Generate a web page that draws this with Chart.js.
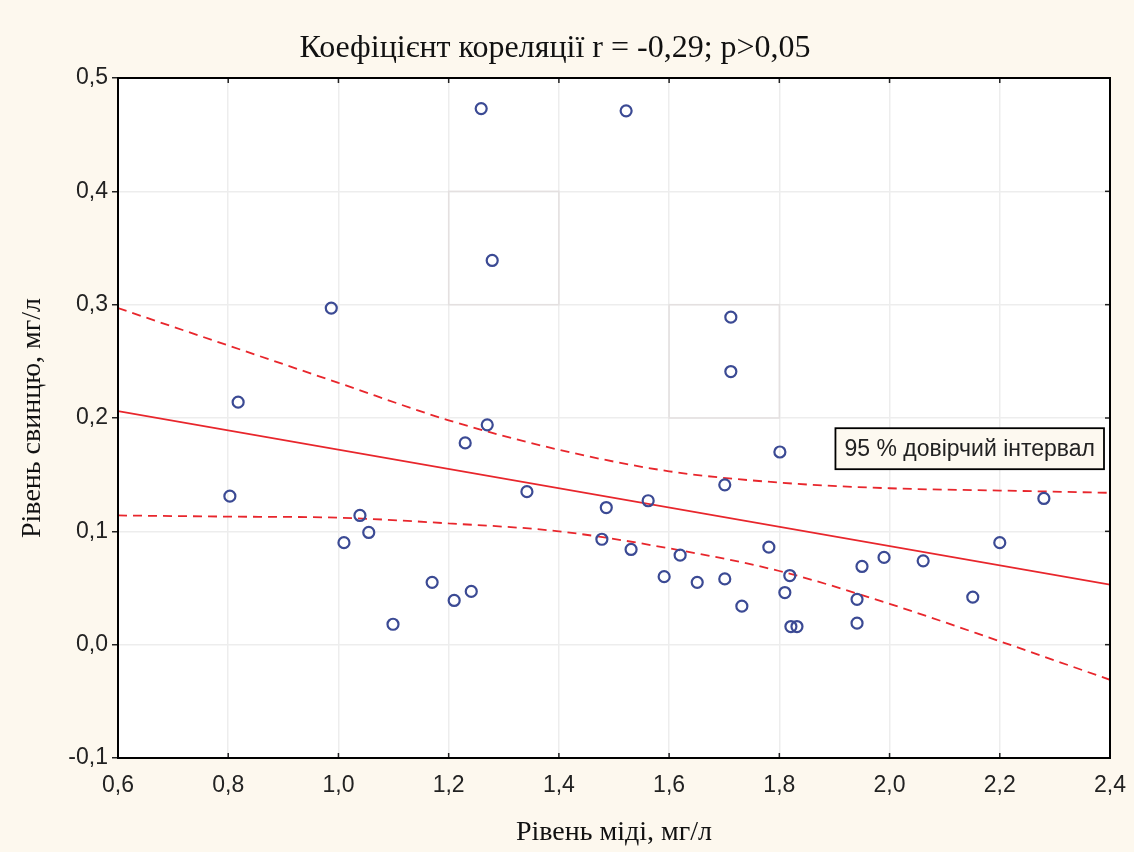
<!DOCTYPE html>
<html>
<head>
<meta charset="utf-8">
<script src="https://cdn.jsdelivr.net/npm/chart.js@4"></script>
<style>
  html, body { margin: 0; padding: 0; background: #fdf8ee; }
  #wrap { width: 1134px; height: 852px; }
</style>
</head>
<body>
<div id="wrap"><canvas id="chart" width="1134" height="852"></canvas></div>
<script>
// ── DATA ─────────────────────────────────────────
const copperX = [
  0.803, 0.818, 0.987, 1.010, 1.039, 1.055, 1.099, 1.170, 1.210, 1.230,
  1.241, 1.259, 1.270, 1.279, 1.342, 1.478, 1.486, 1.522, 1.531, 1.562,
  1.591, 1.620, 1.651, 1.701, 1.701, 1.712, 1.712, 1.732, 1.781, 1.801,
  1.810, 1.819, 1.821, 1.832, 1.941, 1.941, 1.950, 1.990, 2.061, 2.151,
  2.200, 2.280
];
const leadY = [
  0.131, 0.214, 0.297, 0.090, 0.114, 0.099, 0.018, 0.055, 0.039, 0.178,
  0.047, 0.473, 0.194, 0.339, 0.135, 0.093, 0.121, 0.471, 0.084, 0.127,
  0.060, 0.079, 0.055, 0.141, 0.058, 0.289, 0.241, 0.034, 0.086, 0.170,
  0.046, 0.061, 0.016, 0.016, 0.040, 0.019, 0.069, 0.077, 0.074, 0.042,
  0.090, 0.129
];

const regX = [0.6, 2.4];
const regY = [0.206, 0.053];

const bandX     = [0.6, 0.8, 1.0, 1.2, 1.4, 1.6, 1.8, 2.0, 2.2, 2.4];
const bandUpper = [0.297, 0.264, 0.231, 0.198, 0.172, 0.153, 0.143, 0.138, 0.136, 0.134];
const bandLower = [0.114, 0.113, 0.112, 0.107, 0.100, 0.085, 0.065, 0.036, 0.003, -0.031];

// faint boxes left over in the original plot [xMin, xMax, yMin, yMax]
const ghostBoxes = [[1.2, 1.4, 0.3, 0.4], [1.6, 1.8, 0.2, 0.3]];

const xTicks = { min: 0.6, max: 2.4, step: 0.2 };
const yTicks = { min: -0.1, max: 0.5, step: 0.1 };

const titleText  = 'Коефіцієнт кореляції r = -0,29; p>0,05';
const xTitle     = 'Рівень міді, мг/л';
const yTitle     = 'Рівень свинцю, мг/л';
const legendText = '95 % довірчий інтервал';

// ── HELPERS ──────────────────────────────────────
const toXY = (xs, ys) => xs.map((x, i) => ({ x, y: ys[i] }));
const comma = v => {
  const n = Math.abs(v) < 1e-9 ? 0 : Number(v);
  return n.toFixed(1).replace('.', ',');
};

const RED  = '#e8262c';
const BLUE = '#3b4a94';
const SERIF = '"Liberation Serif", "Times New Roman", serif';
const SANS  = '"Liberation Sans", Arial, sans-serif';

// ── PLUGINS ──────────────────────────────────────
const frame = {
  id: 'frame',
  beforeDraw(chart) {
    const { ctx, chartArea: a } = chart;
    ctx.save();
    ctx.fillStyle = '#fdf8ee';
    ctx.fillRect(0, 0, chart.width, chart.height);
    ctx.fillStyle = '#ffffff';
    ctx.fillRect(a.left, a.top, a.right - a.left, a.bottom - a.top);
    ctx.restore();
  },
  beforeDatasetsDraw(chart) {
    const { ctx, scales: { x, y } } = chart;
    ctx.save();
    ctx.strokeStyle = '#e4e0e0';
    ctx.lineWidth = 1.5;
    ghostBoxes.forEach(([x0, x1, y0, y1]) => {
      const l = x.getPixelForValue(x0), r = x.getPixelForValue(x1);
      const t = y.getPixelForValue(y1), b = y.getPixelForValue(y0);
      ctx.strokeRect(l, t, r - l, b - t);
    });
    ctx.restore();
  },
  afterDraw(chart) {
    const { ctx, chartArea: a, scales: { x, y } } = chart;
    ctx.save();
    // inner tick marks on bottom / top / right
    ctx.strokeStyle = '#222';
    ctx.lineWidth = 1.5;
    x.ticks.forEach(t => {
      const px = x.getPixelForValue(t.value);
      ctx.beginPath();
      ctx.moveTo(px, a.bottom); ctx.lineTo(px, a.bottom - 5);
      ctx.moveTo(px, a.top);    ctx.lineTo(px, a.top + 5);
      ctx.stroke();
    });
    y.ticks.forEach(t => {
      const py = y.getPixelForValue(t.value);
      ctx.beginPath();
      ctx.moveTo(a.right, py); ctx.lineTo(a.right - 5, py);
      ctx.stroke();
    });
    // plot frame
    ctx.strokeStyle = '#000';
    ctx.lineWidth = 2;
    ctx.strokeRect(a.left, a.top, a.right - a.left, a.bottom - a.top);

    // legend box
    ctx.font = '23px ' + SANS;
    const w = ctx.measureText(legendText).width + 18;
    const h = 41;
    const right = a.right - 6;
    const top = y.getPixelForValue(0.191);
    ctx.fillStyle = '#fdf9f0';
    ctx.fillRect(right - w, top, w, h);
    ctx.lineWidth = 1.8;
    ctx.strokeRect(right - w, top, w, h);
    ctx.fillStyle = '#222';
    ctx.textBaseline = 'middle';
    ctx.textAlign = 'center';
    ctx.fillText(legendText, right - w / 2, top + h / 2 + 1);
    ctx.restore();
  }
};

// ── CHART ────────────────────────────────────────
new Chart(document.getElementById('chart'), {
  type: 'scatter',
  data: {
    datasets: [
      {
        label: 'points',
        data: toXY(copperX, leadY),
        pointStyle: 'circle',
        pointRadius: 5.5,
        pointBorderWidth: 2.2,
        borderColor: BLUE,
        backgroundColor: 'rgba(0,0,0,0)',
        order: 0
      },
      {
        label: 'regression',
        type: 'line',
        data: toXY(regX, regY),
        borderColor: RED,
        borderWidth: 1.8,
        pointRadius: 0,
        fill: false,
        order: 1
      },
      {
        label: 'upper',
        type: 'line',
        data: toXY(bandX, bandUpper),
        borderColor: RED,
        borderWidth: 1.8,
        borderDash: [9, 6],
        cubicInterpolationMode: 'monotone',
        pointRadius: 0,
        fill: false,
        order: 1
      },
      {
        label: 'lower',
        type: 'line',
        data: toXY(bandX, bandLower),
        borderColor: RED,
        borderWidth: 1.8,
        borderDash: [9, 6],
        cubicInterpolationMode: 'monotone',
        pointRadius: 0,
        fill: false,
        order: 1
      }
    ]
  },
  options: {
    responsive: false,
    animation: false,
    events: [],
    layout: { padding: { top: 0, right: 24, bottom: 0, left: 0 } },
    plugins: {
      legend: { display: false },
      tooltip: { enabled: false },
      title: {
        display: true,
        text: titleText,
        color: '#111',
        font: { family: SERIF, size: 32, weight: 'normal', lineHeight: 1.2 },
        padding: { top: 29.8, bottom: 9.8 }
      }
    },
    scales: {
      x: {
        type: 'linear',
        min: xTicks.min,
        max: xTicks.max,
        afterFit: s => { s.height = 94; },
        ticks: {
          stepSize: xTicks.step,
          color: '#222',
          font: { family: SANS, size: 23 },
          padding: 8,
          callback: v => comma(v)
        },
        grid: { color: '#ededed', lineWidth: 1.5, drawTicks: true, tickLength: 6, tickColor: 'rgba(0,0,0,0)' },
        border: { display: false },
        title: {
          display: true,
          text: xTitle,
          color: '#111',
          font: { family: SERIF, size: 28, weight: 'normal', lineHeight: 1.2 },
          padding: { top: 0, bottom: 3 }
        }
      },
      y: {
        type: 'linear',
        min: yTicks.min,
        max: yTicks.max,
        afterFit: s => { s.width = 118; },
        ticks: {
          stepSize: yTicks.step,
          color: '#222',
          font: { family: SANS, size: 23 },
          padding: 4,
          callback: v => comma(v)
        },
        grid: { color: '#ededed', lineWidth: 1.5, drawTicks: true, tickLength: 6, tickColor: '#222' },
        border: { display: false },
        title: {
          display: true,
          text: yTitle,
          color: '#111',
          font: { family: SERIF, size: 28, weight: 'normal', lineHeight: 1.2 },
          padding: { top: 16, bottom: 0 }
        }
      }
    }
  },
  plugins: [frame]
});
</script>
</body>
</html>
